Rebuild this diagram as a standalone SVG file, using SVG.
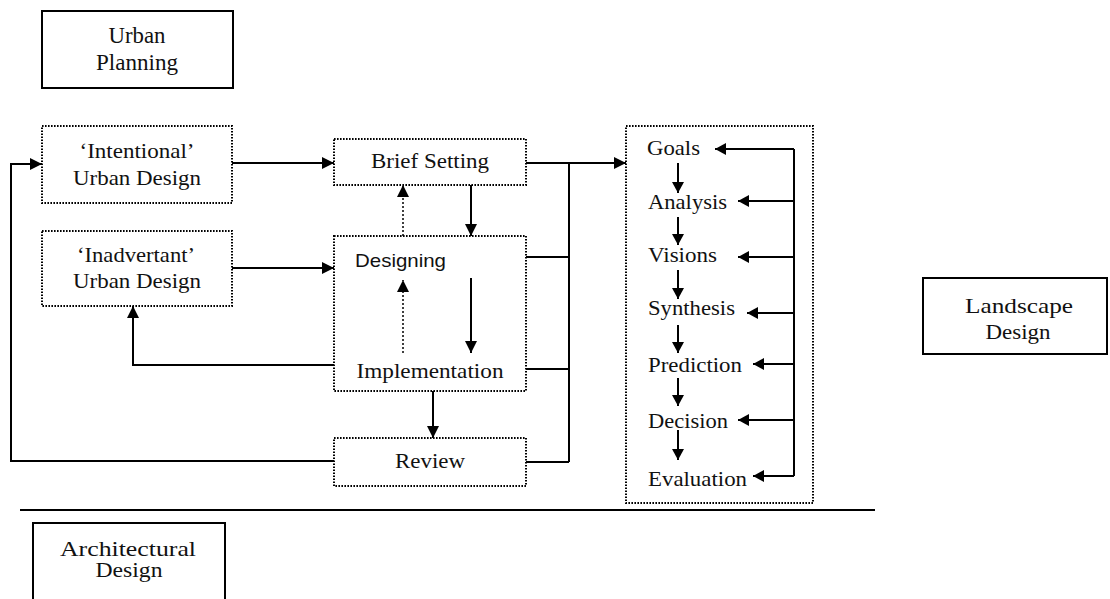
<svg xmlns="http://www.w3.org/2000/svg" width="1110" height="599" viewBox="0 0 1110 599">
  <style>
    .bg { fill: #ffffff; }
    .solid { fill: none; stroke: #000000; stroke-width: 2; }
    .dotted { fill: none; stroke: #000000; stroke-width: 2; stroke-dasharray: 1.6 1.4; }
    .line { fill: none; stroke: #000000; stroke-width: 2; }
    .dline { fill: none; stroke: #000000; stroke-width: 1.5; stroke-dasharray: 2 2; }
    .t { font-family: "Liberation Serif", "Times New Roman", serif; font-size: 21px; fill: #111111; }
    .s { font-family: "Liberation Sans", Arial, sans-serif; font-size: 19px; fill: #111111; }
    .c { text-anchor: middle; }
  </style>
  <defs>
    <marker id="arrow" markerUnits="userSpaceOnUse" markerWidth="12" markerHeight="12" refX="12" refY="6" orient="auto">
      <path d="M0,0 L12,6 L0,12 z" fill="#000000"/>
    </marker>
    <marker id="arrowSm" markerUnits="userSpaceOnUse" markerWidth="11" markerHeight="12" refX="11" refY="6" orient="auto">
      <path d="M0,0 L11,6 L0,12 z" fill="#000000"/>
    </marker>
  </defs>
  <rect class="bg" x="0" y="0" width="1110" height="599"/>

  <g id="urban-planning">
    <rect class="solid" x="42" y="11" width="191" height="77"/>
    <text class="t c" x="137" y="43" style="font-size:23px" textLength="57" lengthAdjust="spacingAndGlyphs">Urban</text>
    <text class="t c" x="137" y="70" style="font-size:23px" textLength="82" lengthAdjust="spacingAndGlyphs">Planning</text>
  </g>

  <g id="intentional">
    <rect class="dotted" x="42" y="126" width="190" height="77"/>
    <text class="t c" x="137" y="158" textLength="115" lengthAdjust="spacingAndGlyphs">‘Intentional’</text>
    <text class="t c" x="137" y="185" textLength="128" lengthAdjust="spacingAndGlyphs">Urban Design</text>
  </g>

  <g id="inadvertant">
    <rect class="dotted" x="42" y="231" width="190" height="75"/>
    <text class="t c" x="136" y="262" textLength="118" lengthAdjust="spacingAndGlyphs">‘Inadvertant’</text>
    <text class="t c" x="137" y="288" textLength="128" lengthAdjust="spacingAndGlyphs">Urban Design</text>
  </g>

  <g id="brief-setting">
    <rect class="dotted" x="334" y="139" width="192" height="46"/>
    <text class="t c" x="430" y="168" textLength="118" lengthAdjust="spacingAndGlyphs">Brief Setting</text>
  </g>

  <g id="designing">
    <rect class="dotted" x="334" y="236" width="192" height="155"/>
    <text class="s" x="355" y="267" textLength="91" lengthAdjust="spacingAndGlyphs">Designing</text>
    <text class="t c" x="430" y="378" textLength="147" lengthAdjust="spacingAndGlyphs">Implementation</text>
  </g>

  <g id="review">
    <rect class="dotted" x="334" y="438" width="192" height="48"/>
    <text class="t c" x="430" y="468" textLength="70" lengthAdjust="spacingAndGlyphs">Review</text>
  </g>

  <g id="stages">
    <rect class="dotted" x="626" y="126" width="187" height="377"/>
    <text class="t" x="647" y="155" textLength="53" lengthAdjust="spacingAndGlyphs">Goals</text>
    <text class="t" x="648" y="209" textLength="79" lengthAdjust="spacingAndGlyphs">Analysis</text>
    <text class="t" x="648" y="262" textLength="69" lengthAdjust="spacingAndGlyphs">Visions</text>
    <text class="t" x="648" y="315" textLength="87" lengthAdjust="spacingAndGlyphs">Synthesis</text>
    <text class="t" x="648" y="372" textLength="94" lengthAdjust="spacingAndGlyphs">Prediction</text>
    <text class="t" x="648" y="428" textLength="80" lengthAdjust="spacingAndGlyphs">Decision</text>
    <text class="t" x="648" y="486" textLength="99" lengthAdjust="spacingAndGlyphs">Evaluation</text>
  </g>

  <g id="landscape-design">
    <rect class="solid" x="923" y="278" width="184" height="76"/>
    <text class="t c" x="1019" y="313" style="font-size:22px" textLength="108" lengthAdjust="spacingAndGlyphs">Landscape</text>
    <text class="t c" x="1018" y="339" style="font-size:20px" textLength="65" lengthAdjust="spacingAndGlyphs">Design</text>
  </g>

  <g id="architectural-design">
    <rect class="solid" x="33" y="523" width="192" height="90"/>
    <text class="t c" x="128" y="556" style="font-size:22px" textLength="136" lengthAdjust="spacingAndGlyphs">Architectural</text>
    <text class="t c" x="129" y="577" style="font-size:20px" textLength="67" lengthAdjust="spacingAndGlyphs">Design</text>
  </g>

  <!-- connectors -->
  <g id="connectors">
    <path class="line" d="M232,163 H334" marker-end="url(#arrow)"/>
    <path class="line" d="M232,268 H334" marker-end="url(#arrow)"/>
    <path class="line" d="M526,163 H626" marker-end="url(#arrow)"/>
    <path class="line" d="M569,163 V462"/>
    <path class="line" d="M526,257 H569"/>
    <path class="line" d="M526,369 H569"/>
    <path class="line" d="M526,462 H569"/>
    <path class="line" d="M471,185 V236" marker-end="url(#arrow)"/>
    <path class="dline" d="M403,236 V185" marker-end="url(#arrow)"/>
    <path class="dline" d="M403,353 V280" marker-end="url(#arrow)"/>
    <path class="line" d="M471,278 V353" marker-end="url(#arrow)"/>
    <path class="line" d="M334,365 H133 V306" marker-end="url(#arrow)"/>
    <path class="line" d="M433,391 V438" marker-end="url(#arrow)"/>
    <path class="line" d="M334,461 H11 V164 H42" marker-end="url(#arrow)"/>

    <!-- feedback spine of the stage list -->
    <path class="line" d="M794,149 V476"/>
    <path class="line" d="M794,149 H715" marker-end="url(#arrowSm)"/>
    <path class="line" d="M794,201 H738" marker-end="url(#arrowSm)"/>
    <path class="line" d="M794,257 H738" marker-end="url(#arrowSm)"/>
    <path class="line" d="M794,313 H747" marker-end="url(#arrowSm)"/>
    <path class="line" d="M794,364 H753" marker-end="url(#arrowSm)"/>
    <path class="line" d="M794,420 H738" marker-end="url(#arrowSm)"/>
    <path class="line" d="M794,476 H753" marker-end="url(#arrowSm)"/>

    <!-- stage sequence -->
    <path class="line" d="M678,163 V193" marker-end="url(#arrowSm)"/>
    <path class="line" d="M678,217 V245" marker-end="url(#arrowSm)"/>
    <path class="line" d="M678,270 V299" marker-end="url(#arrowSm)"/>
    <path class="line" d="M678,325 V353" marker-end="url(#arrowSm)"/>
    <path class="line" d="M678,378 V406" marker-end="url(#arrowSm)"/>
    <path class="line" d="M678,430 V460" marker-end="url(#arrowSm)"/>

    <!-- separator -->
    <path class="line" d="M20,510 H875"/>
  </g>
</svg>
